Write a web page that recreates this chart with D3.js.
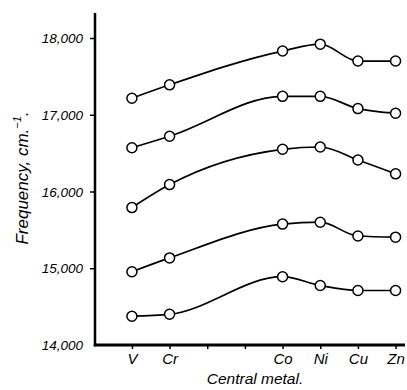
<!DOCTYPE html>
<html><head><meta charset="utf-8">
<script src="https://cdn.jsdelivr.net/npm/d3@7/dist/d3.min.js"></script>
<style>
html,body{margin:0;padding:0;background:#fff;}
svg{display:block;}
text{font-family:"Liberation Sans",Arial,sans-serif;font-style:italic;fill:#000;}
</style></head>
<body>
<script>
// Data
const metals = ["V","Cr","Mn","Fe","Co","Ni","Cu","Zn"];
const metalLabels = ["V","Cr","","","Co","Ni","Cu","Zn"];
const measured = ["V","Cr","Co","Ni","Cu","Zn"];
const series1 = [17215, 17390, 17830, 17920, 17700, 17700];
const series2 = [16570, 16720, 17240, 17240, 17080, 17020];
const series3 = [15790, 16090, 16550, 16580, 16410, 16230];
const series4 = [14955, 15135, 15575, 15600, 15420, 15405];
const series5 = [14375, 14400, 14890, 14775, 14710, 14710];
const yTicks = [14000, 15000, 16000, 17000, 18000];
const yTickLabels = ["14,000","15,000","16,000","17,000","18,000"];
const allSeries = [series1, series2, series3, series4, series5];

const W = 407, H = 390;
const svg = d3.select("body").append("svg").attr("width", W).attr("height", H);

const x0 = 95, yBase = 345;
const idx = d3.scaleLinear().domain([-0.98, 7.25]).range([x0, 405]);
const x = m => idx(metals.indexOf(m));
const y = d3.scaleLinear().domain([14000, 18000]).range([yBase, 38]);

// axes
const yAxis = d3.axisLeft(y).tickValues(yTicks).tickSize(5).tickPadding(7)
  .tickFormat((d,i) => yTickLabels[i]);
const gy = svg.append("g").attr("transform", `translate(${x0},0)`).call(yAxis);
gy.select(".domain").remove();
gy.selectAll(".tick line").attr("stroke","#000").attr("stroke-width",1.5);
gy.selectAll(".tick text").style("font-size","13.5px").attr("dy","0.35em");
gy.selectAll(".tick").filter(d => d === 14000).select("line").remove();
svg.append("line").attr("x1", x0).attr("x2", x0).attr("y1", 13).attr("y2", yBase+1.2)
  .attr("stroke","#000").attr("stroke-width",2.5);

const xAxis = d3.axisBottom(idx).tickValues(d3.range(metals.length)).tickSize(4).tickPadding(4)
  .tickFormat(i => metalLabels[i]);
const gx = svg.append("g").attr("transform", `translate(0,${yBase})`).call(xAxis);
gx.select(".domain").remove();
gx.selectAll(".tick line").attr("stroke","#000").attr("stroke-width",1.5);
gx.selectAll(".tick text").style("font-size","15px");
svg.append("line").attr("x1", x0-1.2).attr("x2", 405).attr("y1", yBase).attr("y2", yBase)
  .attr("stroke","#000").attr("stroke-width",2.8);

// axis titles
svg.append("text").attr("transform", `translate(28,178) rotate(-90)`)
  .attr("text-anchor","middle").style("font-size","17px")
  .html('Frequency, cm.<tspan dy="-7" font-size="11px">−1</tspan><tspan dy="7">.</tspan>');
svg.append("text").attr("x", 255).attr("y", 384).attr("text-anchor","middle")
  .style("font-size","15.5px").text("Central metal.");

// curves
const line = d3.line().x((d,i) => x(measured[i])).y(d => y(d)).curve(d3.curveMonotoneX);
allSeries.forEach(s => {
  svg.append("path").attr("d", line(s)).attr("fill","none").attr("stroke","#000").attr("stroke-width",1.7);
  svg.selectAll(null).data(s).enter().append("circle")
    .attr("cx",(d,i) => x(measured[i])).attr("cy", d => y(d)).attr("r",5)
    .attr("fill","#fff").attr("stroke","#000").attr("stroke-width",1.5);
});
</script>
</body></html>
